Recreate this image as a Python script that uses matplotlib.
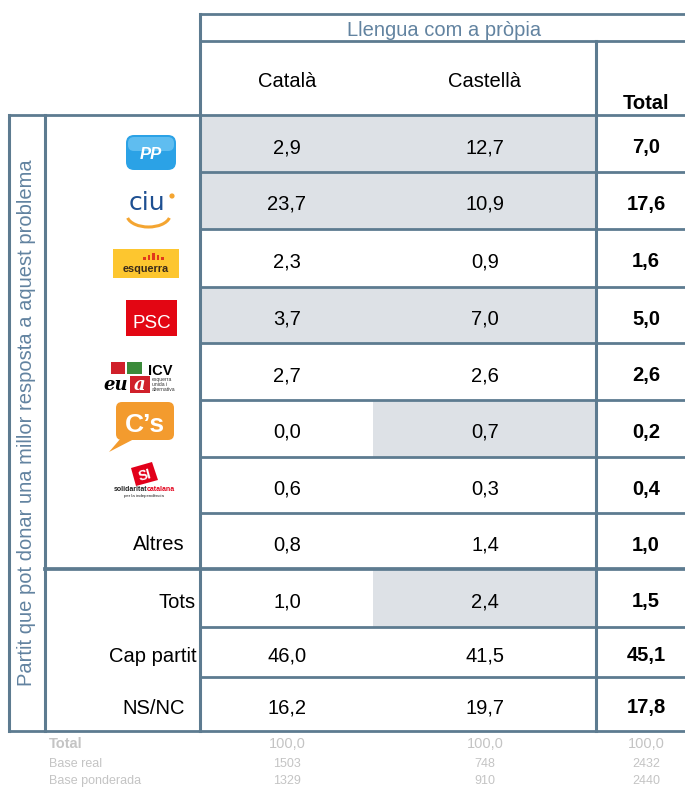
import matplotlib.pyplot as plt
from matplotlib.patches import Rectangle, FancyBboxPatch, Arc, Polygon, Circle

plt.rcParams['font.family'] = ['Liberation Sans', 'DejaVu Sans']

'''dades de la taula'''
files = ['PP', 'CiU', 'ERC', 'PSC', 'ICV-EUiA', "C's", 'SI', 'Altres', 'Tots', 'Cap partit', 'NS/NC']
catala = [2.9, 23.7, 2.3, 3.7, 2.7, 0.0, 0.6, 0.8, 1.0, 46.0, 16.2]
castella = [12.7, 10.9, 0.9, 7.0, 2.6, 0.7, 0.3, 1.4, 2.4, 41.5, 19.7]
total = [7.0, 17.6, 1.6, 5.0, 2.6, 0.2, 0.4, 1.0, 1.5, 45.1, 17.8]
# cel·les ombrejades
ombra_cat = [1, 1, 0, 1, 0, 0, 0, 0, 0, 0, 0]
ombra_cas = [1, 1, 0, 1, 0, 1, 0, 0, 1, 0, 0]

titol = 'Llengua com a pròpia'
columnes = ['Català', 'Castellà']
eix = 'Partit que pot donar una millor resposta a aquest problema'

peu_etiq = ['Total', 'Base real', 'Base ponderada']
peu_total = [100.0, 100.0, 100.0]
base_real = [1503, 748, 2432]
base_pond = [1329, 910, 2440]


def coma(v):
    return f'{v:.1f}'.replace('.', ',')


'''figura en coordenades de pixel'''
W, H = 685, 787
fig = plt.figure(figsize=(6.85, 7.87), dpi=100)
ax = fig.add_axes([0, 0, 1, 1])
ax.set_xlim(0, W)
ax.set_ylim(H, 0)
ax.axis('off')

linia = '#5d7b90'
gris = '#dde1e6'
blau_txt = '#6283a0'
peu_col = '#c4c4c4'
fs = 14.5

x_ext, x_int, x_dades, x_mig, x_tot, x_fi = 9, 45, 200, 373, 596, 685
vores = [115, 172, 229, 287, 343, 400, 457, 513, 569, 627, 677, 731]
cx = [287, 485, 646]

'''ombres'''
for i in range(len(files)):
    h = vores[i + 1] - vores[i]
    if ombra_cat[i]:
        ax.add_patch(Rectangle((x_dades, vores[i]), x_mig - x_dades, h, fc=gris, ec='none'))
    if ombra_cas[i]:
        ax.add_patch(Rectangle((x_mig, vores[i]), x_tot - x_mig, h, fc=gris, ec='none'))

'''linies'''
kw = dict(colors=linia, capstyle='projecting')
ax.hlines([14, 41], x_dades, x_fi, lw=2.0, **kw)
ax.hlines([vores[0], vores[-1]], x_ext, x_fi, lw=2.0, **kw)
for j, y in enumerate(vores[1:-1], start=1):
    if files[j] == 'Tots':
        ax.hlines(y, x_int, x_fi, lw=2.7, **kw)
    else:
        ax.hlines(y, x_dades, x_fi, lw=2.0, **kw)
ax.vlines([x_ext, x_int], vores[0], vores[-1], lw=2.2, **kw)
ax.vlines(x_dades, 14, vores[-1], lw=2.2, **kw)
ax.vlines(x_tot, 41, vores[-1], lw=2.2, **kw)

'''capcaleres'''
ax.text((x_dades + x_fi) / 2 + 2, 36, titol, ha='center', va='baseline', fontsize=fs, color=blau_txt)
for k, c in enumerate(columnes):
    ax.text(cx[k], 87, c, ha='center', va='baseline', fontsize=fs, color='black')
ax.text(cx[2], 109, 'Total', ha='center', va='baseline', fontsize=fs, fontweight='bold')
ax.text(27, (vores[0] + vores[-1]) / 2 + 0, eix, rotation=90, ha='center', va='center',
        fontsize=fs, color=blau_txt)

'''valors'''
for i in range(len(files)):
    yb = (vores[i] + vores[i + 1]) / 2 + 9.5
    ax.text(cx[0], yb, coma(catala[i]), ha='center', va='baseline', fontsize=fs)
    ax.text(cx[1], yb, coma(castella[i]), ha='center', va='baseline', fontsize=fs)
    ax.text(cx[2], yb, coma(total[i]), ha='center', va='baseline', fontsize=fs, fontweight='bold')

'''etiquetes de text'''
dreta = {'Altres': 185, 'Tots': 196, 'Cap partit': 197, 'NS/NC': 185}
for i, f in enumerate(files):
    if f in dreta:
        yb = (vores[i] + vores[i + 1]) / 2 + 9.5
        ax.text(dreta[f], yb, f, ha='right', va='baseline', fontsize=fs)

'''logos (aproximats)'''
# PP
ax.add_patch(FancyBboxPatch((126, 135), 50, 35, boxstyle='round,pad=0,rounding_size=8',
                            fc='#2ba2e6', ec='none'))
ax.add_patch(FancyBboxPatch((128, 137), 46, 14, boxstyle='round,pad=0,rounding_size=6',
                            fc='#5fbdf0', ec='none'))
ax.text(151, 159, 'PP', ha='center', va='baseline', fontsize=12, fontweight='bold',
        fontstyle='italic', color='white')
# CiU
ax.text(147, 210, 'ciu', ha='center', va='baseline', fontsize=18, color='#1d4f91',
        family=['DejaVu Sans'])
ax.add_patch(Circle((172, 196), 2.6, fc='#f4a531', ec='none'))
ax.add_patch(Arc((148.5, 215), 43, 24, theta1=8, theta2=172, color='#f4a531', lw=2.2))
# ERC
ax.add_patch(Rectangle((113, 249), 66, 29, fc='#fdc62f', ec='none'))
for k, hb in enumerate([3, 5, 7, 5, 3]):
    ax.add_patch(Rectangle((143 + k * 4.6, 260 - hb), 2.6, hb, fc='#e2381b', ec='none'))
ax.text(146, 272, 'esquerra', ha='center', va='baseline', fontsize=7.8, fontweight='bold',
        color='#3a2a1a')
# PSC
ax.add_patch(Rectangle((126, 300), 51, 36, fc='#e30613', ec='none'))
ax.text(152, 328, 'PSC', ha='center', va='baseline', fontsize=13.5, color='white')
# ICV-EUiA
ax.add_patch(Rectangle((111, 362), 14, 12, fc='#d0202a', ec='none'))
ax.add_patch(Rectangle((127, 362), 15, 12, fc='#3b8a3a', ec='none'))
ax.text(160, 375, 'ICV', ha='center', va='baseline', fontsize=10.5, fontweight='bold')
ax.add_patch(Rectangle((130, 376), 20, 17, fc='#d0202a', ec='none'))
ax.text(116, 390, 'eu', ha='center', va='baseline', fontsize=13, fontweight='bold',
        fontstyle='italic', family=['DejaVu Serif'])
ax.text(140, 390, 'a', ha='center', va='baseline', fontsize=13, fontweight='bold',
        fontstyle='italic', color='white', family=['DejaVu Serif'])
for k, t in enumerate(['esquerra', 'unida i', 'alternativa']):
    ax.text(152, 381 + k * 5, t, ha='left', va='baseline', fontsize=3.6, color='#333333')
# C's
ax.add_patch(FancyBboxPatch((116, 402), 58, 38, boxstyle='round,pad=0,rounding_size=6',
                            fc='#f39b2e', ec='none'))
ax.add_patch(Polygon([(121, 438), (136, 438), (109, 452)], closed=True, fc='#f39b2e', ec='none'))
ax.text(145, 432, 'C\u2019s', ha='center', va='baseline', fontsize=19, fontweight='bold',
        color='white')
# SI
ax.add_patch(Polygon([(131, 468), (152, 462), (158, 480), (136, 486)], closed=True,
                     fc='#e2001a', ec='none'))
ax.text(145, 481, 'SI', ha='center', va='baseline', fontsize=10, fontweight='bold',
        color='white', rotation=15)
ax.text(147, 491, 'solidaritat', ha='right', va='baseline', fontsize=5, fontweight='bold',
        color='#222222')
ax.text(147, 491, 'catalana', ha='left', va='baseline', fontsize=5, fontweight='bold',
        color='#e2001a')
ax.text(144, 497, 'per la independència', ha='center', va='baseline', fontsize=3.2,
        color='#222222')

'''peu'''
ax.text(49, 748, peu_etiq[0], ha='left', va='baseline', fontsize=10.5, fontweight='bold',
        color=peu_col)
ax.text(49, 767, peu_etiq[1], ha='left', va='baseline', fontsize=9, color=peu_col)
ax.text(49, 784, peu_etiq[2], ha='left', va='baseline', fontsize=9, color=peu_col)
for k in range(3):
    ax.text(cx[k], 748, coma(peu_total[k]), ha='center', va='baseline', fontsize=10.5,
            color=peu_col)
    ax.text(cx[k], 767, str(base_real[k]), ha='center', va='baseline', fontsize=9,
            color=peu_col)
    ax.text(cx[k], 784, str(base_pond[k]), ha='center', va='baseline', fontsize=9,
            color=peu_col)

plt.savefig('out.png', dpi=100)
